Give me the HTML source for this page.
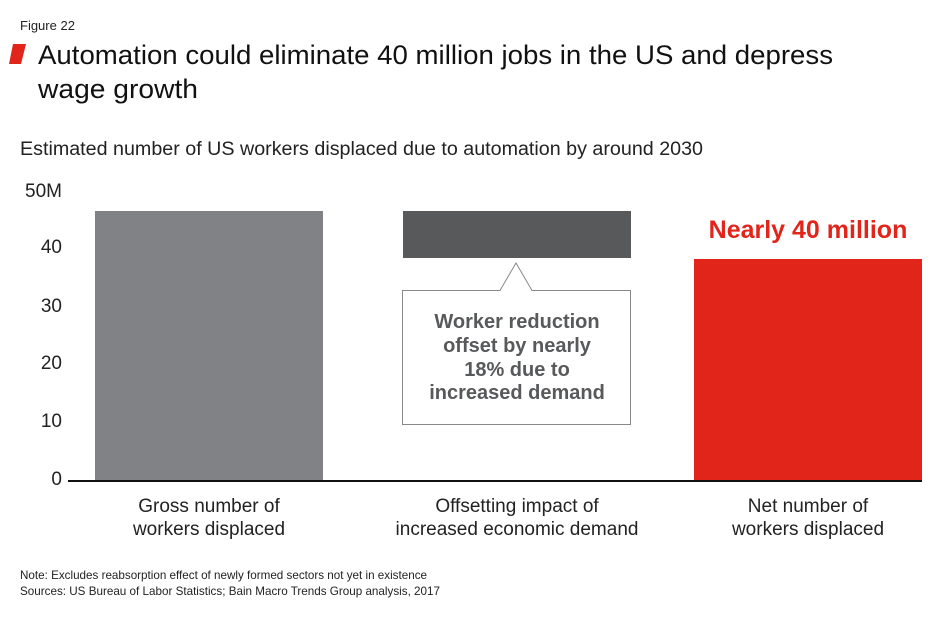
<!DOCTYPE html>
<html><head><meta charset="utf-8"><style>
body{margin:0;background:#fff;}
svg text{font-family:"Liberation Sans",sans-serif;}
</style></head><body>
<svg width="950" height="615" viewBox="0 0 950 615" xmlns="http://www.w3.org/2000/svg">
<rect width="950" height="615" fill="#fff"/>
<text x="20" y="30" font-size="13" fill="#222">Figure 22</text>
<polygon points="13,44 26,44 21,64 9,64" fill="#e1251b"/>
<text x="38" y="64" font-size="27" fill="#111" textLength="795" lengthAdjust="spacingAndGlyphs">Automation could eliminate 40 million jobs in the US and depress</text>
<text x="38" y="98" font-size="27" fill="#111" textLength="160" lengthAdjust="spacingAndGlyphs">wage growth</text>
<text x="20" y="155" font-size="19" fill="#222" textLength="683" lengthAdjust="spacingAndGlyphs">Estimated number of US workers displaced due to automation by around 2030</text>
<g font-size="19" fill="#222" text-anchor="end">
<text x="62" y="197">50M</text>
<text x="62" y="253">40</text>
<text x="62" y="312">30</text>
<text x="62" y="369">20</text>
<text x="62" y="427">10</text>
<text x="62" y="485">0</text>
</g>
<rect x="95" y="211" width="228" height="270" fill="#808285"/>
<rect x="403" y="211" width="228" height="47" fill="#58595b"/>
<rect x="694" y="259" width="228" height="222" fill="#e1251b"/>
<line x1="68" y1="481" x2="922" y2="481" stroke="#111" stroke-width="2"/>
<path d="M402.5,290.5 H500 L516,263 L532,290.5 H630.5 V424.5 H402.5 Z" fill="#fff" stroke="#888" stroke-width="1"/>
<g font-size="20" font-weight="bold" fill="#58595b" text-anchor="middle">
<text x="517" y="328">Worker reduction</text>
<text x="517" y="352">offset by nearly</text>
<text x="517" y="376">18% due to</text>
<text x="517" y="399">increased demand</text>
</g>
<text x="808" y="238" font-size="25" font-weight="bold" fill="#e1251b" text-anchor="middle">Nearly 40 million</text>
<g font-size="19" fill="#222" text-anchor="middle">
<text x="209" y="512">Gross number of</text>
<text x="209" y="535">workers displaced</text>
<text x="517" y="512">Offsetting impact of</text>
<text x="517" y="535">increased economic demand</text>
<text x="808" y="512">Net number of</text>
<text x="808" y="535">workers displaced</text>
</g>
<text x="20" y="579" font-size="12" fill="#222" textLength="407" lengthAdjust="spacingAndGlyphs">Note: Excludes reabsorption effect of newly formed sectors not yet in existence</text>
<text x="20" y="595" font-size="12" fill="#222" textLength="420" lengthAdjust="spacingAndGlyphs">Sources: US Bureau of Labor Statistics; Bain Macro Trends Group analysis, 2017</text>
</svg>
</body></html>
